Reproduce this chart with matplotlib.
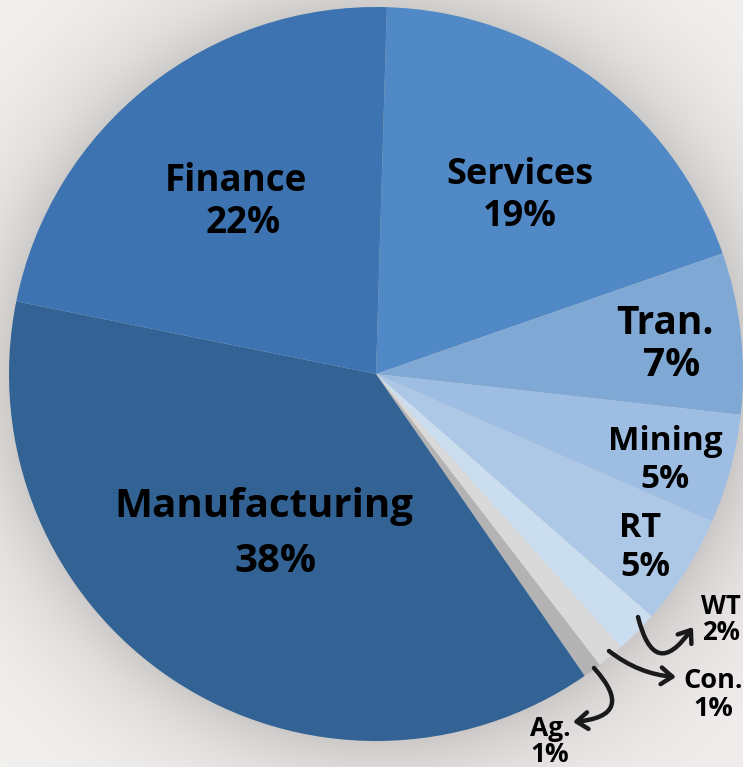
import numpy as np
import matplotlib
matplotlib.use("Agg")
import matplotlib.pyplot as plt
from matplotlib.patches import FancyArrowPatch

# ---- data ----
categories = ["Services", "Tran.", "Mining", "RT", "WT", "Con.", "Ag.", "Manufacturing", "Finance"]
shares = [19.2, 7.1, 4.8, 4.9, 1.9, 1.2, 0.8, 37.8, 22.3]
pct_labels = ["19%", "7%", "5%", "5%", "2%", "1%", "1%", "38%", "22%"]
colors = ["#5189c6", "#80a8d4", "#9dbde2", "#adc8e6", "#cbdef0", "#d9d9d9", "#b3b3b3", "#336394", "#3c73b0"]

W, H = 743, 767
fig = plt.figure(figsize=(W / 100, H / 100), dpi=100)
ax = fig.add_axes([0, 0, 1, 1])
ax.set_xlim(0, W)
ax.set_ylim(0, H)
ax.axis("off")

cx, cy_img, R = 376, 374, 367
cy = H - cy_img

# background with soft shadow around the pie
yy, xx = np.mgrid[0:H, 0:W]
d = np.sqrt((xx - cx) ** 2 + (yy - cy_img) ** 2) - R
d = np.clip(d, 0, None)
shade = 0.16 * np.exp(-d / 55.0)
base = np.zeros((H, W, 3))
base[..., 0] = 0.955
base[..., 1] = 0.948
base[..., 2] = 0.940
t = np.clip((xx - 400) / 350.0 + (yy - 500) / 300.0, 0, 1)[..., None] * 0.5
pink = np.array([0.953, 0.925, 0.933])
base = base * (1 - t) + pink * t
img = base * (1 - shade[..., None])
ax.imshow(img, extent=(0, W, 0, H), origin="upper", zorder=0, aspect="auto")

ax.pie(shares, colors=colors, startangle=88.3, counterclock=False,
       center=(cx, cy), radius=R, frame=True,
       wedgeprops=dict(linewidth=0, zorder=2))
ax.set_xlim(0, W)
ax.set_ylim(0, H)
ax.axis("off")

font = "Open Sans"

def txt(x, y, s, size):
    ax.text(x, H - y - 4, s, ha="center", va="center", fontsize=size,
            fontweight="bold", family=font, color="black", zorder=5)

txt(264, 503, categories[7], 29)
txt(276, 558, pct_labels[7], 29)
txt(236, 177, categories[8], 26.5)
txt(243, 219, pct_labels[8], 26.5)
txt(520, 171, categories[0], 26)
txt(520, 213, pct_labels[0], 26)
txt(665, 320, categories[1], 28)
txt(672, 361, pct_labels[1], 28)
txt(665, 438, categories[2], 24)
txt(665, 475, pct_labels[2], 24)
txt(640, 524, categories[3], 24.5)
txt(645, 563, pct_labels[3], 24.5)
txt(721, 603, categories[4], 18.5)
txt(721, 628, pct_labels[4], 18.5)
txt(713, 677, categories[5], 19.5)
txt(713, 705, pct_labels[5], 19.5)
txt(550, 724, categories[6], 19)
txt(550, 750, pct_labels[6], 19)

def arrow(p0, p1, rad):
    a = FancyArrowPatch((p0[0], H - p0[1]), (p1[0], H - p1[1]),
                        connectionstyle=f"arc3,rad={rad}",
                        arrowstyle="->,head_length=8,head_width=6",
                        color="#1a1a1a", lw=3.2, zorder=6, shrinkA=0, shrinkB=0)
    ax.add_patch(a)

arrow((638, 617), (693, 627), 1.1)
arrow((609, 651), (676, 677), 0.15)
arrow((594, 668), (573, 722), -1.0)

fig.savefig("out.png", dpi=100)
